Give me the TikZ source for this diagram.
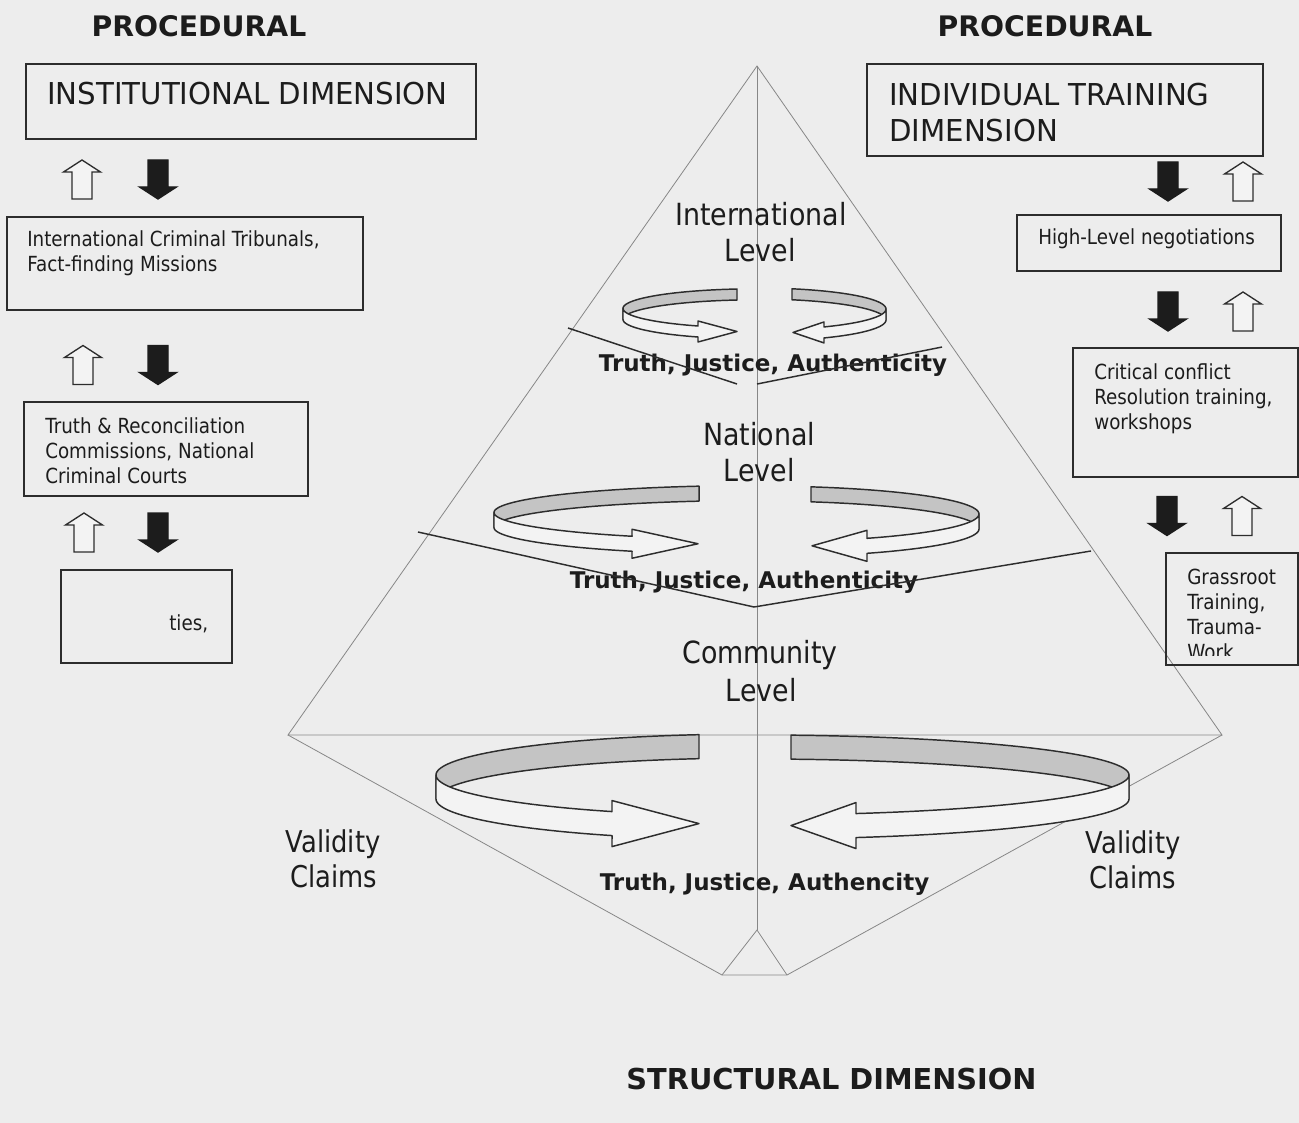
\documentclass[tikz,border=0pt]{standalone}
\usepackage{fontspec}
\setmainfont{DejaVu Sans}
\newfontfamily\tah{DejaVu Sans}[FakeStretch=0.88]
\newfontfamily\tahw{DejaVu Sans}[FakeStretch=0.97]
\newfontfamily\tahn{DejaVu Sans}[FakeStretch=0.86]

\definecolor{paper}{RGB}{237,237,237}
\definecolor{ink}{RGB}{28,28,28}
\definecolor{rim}{RGB}{45,45,45}
\definecolor{edge}{RGB}{135,135,135}
\definecolor{band}{RGB}{196,196,196}
\definecolor{face}{RGB}{243,243,243}

\tikzset{
  title/.style={font=\fontsize{21.2}{25}\selectfont\bfseries, text=ink, inner sep=0, anchor=base},
  motto/.style={font=\fontsize{17.25}{20}\selectfont\bfseries, text=ink, inner sep=0, anchor=base},
  caps/.style={font=\tahw\fontsize{22.6}{27}\selectfont, text=ink, inner sep=0, anchor=base west},
  small/.style={font=\tah\fontsize{15.6}{18.75}\selectfont, text=ink, inner sep=0, anchor=base west},
  level/.style={font=\tah\fontsize{22.9}{27}\selectfont, text=ink, inner sep=0, anchor=base},
  claim/.style={font=\tahn\fontsize{22.5}{27}\selectfont, text=ink, inner sep=0, anchor=base},
  frame/.style={draw=rim, line width=1.5pt},
  pyr/.style={draw=edge, line width=0.6pt},
  divider/.style={draw=rim, line width=1.1pt},
  bandback/.style={fill=band, draw=rim, line width=1.1pt, line join=round},
  bandfront/.style={fill=face, draw=rim, line width=1.1pt, line join=round},
  whitearr/.style={fill=face, draw=rim, line width=1pt},
  blackarr/.style={fill=ink, draw=ink, line width=1pt},
  uparr/.pic={\filldraw[whitearr] (0,-19.5) -- (18.5,-7.5) -- (10,-7.5) -- (10,19.5)
      -- (-10,19.5) -- (-10,-7.5) -- (-18.5,-7.5) -- cycle;},
  downarr/.pic={\filldraw[blackarr] (0,19.5) -- (18.5,7.5) -- (10,7.5) -- (10,-19.5)
      -- (-10,-19.5) -- (-10,7.5) -- (-18.5,7.5) -- cycle;},
}

% curved ribbon arrow bending round its left end
% #1 cx, #2 cy, #3 a, #4 b, #5 band height, #6 cut end x, #7 head base x, #8 tip x, #9 barb
\newcommand\leftribbon[9]{%
  \pgfmathsetmacro\rs{360-acos((#6-#1)/#3)}%
  \pgfmathsetmacro\re{acos((#7-#1)/#3)}%
  \pgfmathsetmacro\ybt{#2+#4*sin(\re)}%
  \pgfmathsetmacro\ybb{\ybt+#5}%
  \pgfmathsetmacro\ym{\ybt+#5/2}%
  \filldraw[bandback] plot[domain=\rs:180,samples=50] ({#1+#3*cos(\x)},{#2+#4*sin(\x)})
     -- plot[domain=180:\rs,samples=50] ({#1+#3*cos(\x)},{#2+#5+#4*sin(\x)}) -- cycle;
  \filldraw[bandfront] plot[domain=180:\re,samples=50] ({#1+#3*cos(\x)},{#2+#4*sin(\x)})
     -- (#7,{\ybt-#9}) -- (#8,\ym) -- (#7,{\ybb+#9})
     -- plot[domain=\re:180,samples=50] ({#1+#3*cos(\x)},{#2+#5+#4*sin(\x)}) -- cycle;
}
% the same, bending round its right end
\newcommand\rightribbon[9]{%
  \pgfmathsetmacro\rs{360-acos((#6-#1)/#3)}%
  \pgfmathsetmacro\re{acos((#7-#1)/#3)}%
  \pgfmathsetmacro\ybt{#2+#4*sin(\re)}%
  \pgfmathsetmacro\ybb{\ybt+#5}%
  \pgfmathsetmacro\ym{\ybt+#5/2}%
  \filldraw[bandback] plot[domain=\rs:360,samples=50] ({#1+#3*cos(\x)},{#2+#4*sin(\x)})
     -- plot[domain=360:\rs,samples=50] ({#1+#3*cos(\x)},{#2+#5+#4*sin(\x)}) -- cycle;
  \filldraw[bandfront] plot[domain=0:\re,samples=50] ({#1+#3*cos(\x)},{#2+#4*sin(\x)})
     -- (#7,{\ybt-#9}) -- (#8,\ym) -- (#7,{\ybb+#9})
     -- plot[domain=\re:0,samples=50] ({#1+#3*cos(\x)},{#2+#5+#4*sin(\x)}) -- cycle;
}

\begin{document}
\begin{tikzpicture}[x=0.75pt, y=-0.75pt]
  \fill[paper] (0,0) rectangle (1299,1123);
  \useasboundingbox (0,0) rectangle (1299,1123);

  % pyramid
  \coordinate (apex) at (757,66);
  \coordinate (bl) at (288,735);
  \coordinate (br) at (1222,735);
  \coordinate (foot) at (757,930);
  \coordinate (fl) at (722,975);
  \coordinate (fr) at (787,975);
  \draw[pyr] (bl) -- (apex) -- (br) -- cycle;
  \draw[pyr] (apex) -- (foot);
  \draw[pyr] (bl) -- (fl) -- (fr) -- (br);
  \draw[pyr] (fl) -- (foot) -- (fr);

  % level dividers
  \coordinate (d1a) at (568,328);
  \coordinate (d1b) at (737,384);
  \coordinate (d1c) at (757,384);
  \coordinate (d1d) at (942,347);
  \coordinate (d2a) at (418,532);
  \coordinate (d2b) at (754,607);
  \coordinate (d2c) at (1091,551);

  % level labels
  \node[level] (intl) at (761,226) {International};
  \node[level] (intlv) at (760,262) {Level};
  \node[level] (natl) at (759,445) {National};
  \node[level] (natlv) at (759,481) {Level};
  \node[level] (comm) at (760,663) {Community};
  \node[level] (commlv) at (761,701) {Level};
  \node[claim] (vcl1) at (333,852) {Validity};
  \node[claim] (vcl2) at (334,887) {Claims};
  \node[claim] (vcr1) at (1133,853) {Validity};
  \node[claim] (vcr2) at (1133,888) {Claims};

  \node[motto] (tja1) at (773,371) {Truth, Justice, Authenticity};
  \node[motto] (tja2) at (744,588) {Truth, Justice, Authenticity};
  \node[motto] (tja3) at (764.5,890) {Truth, Justice, Authencity};

  \draw[divider] (d1a) -- (d1b);
  \draw[divider] (d1c) -- (d1d);
  \draw[divider] (d2a) -- (d2b) -- (d2c);

  % circulating validity claims
  \leftribbon{757}{308.4}{134}{19.6}{11}{737}{698}{737}{5}
  \rightribbon{757}{309}{129}{21}{11}{792}{824}{793}{5}
  \leftribbon{757}{512.5}{263}{27}{15}{699}{632}{698}{7}
  \rightribbon{757}{514}{222}{28}{15}{811}{867}{812}{8}
  \leftribbon{757}{775}{321}{41}{24}{699}{612}{699}{11}
  \rightribbon{757}{775}{372}{40}{24}{791}{856}{791}{11}

  % headings
  \node[title] (procl) at (199,37) {PROCEDURAL};
  \node[title] (procr) at (1045,37) {PROCEDURAL};
  \node[title, font=\fontsize{21.6}{25}\selectfont\bfseries] (struct) at (831.5,1089) {STRUCTURAL DIMENSION};

  % institutional column
  \draw[frame] (26,64) rectangle (476,139);
  \node[caps] (inst) at (47,105) {INSTITUTIONAL DIMENSION};
  \pic (iu1) at (82,179.5) {uparr};
  \pic (id1) at (158,179.5) {downarr};
  \draw[frame] (7,217) rectangle (363,310);
  \node[small] (ict1) at (27,247) {International Criminal Tribunals,};
  \node[small] (ict2) at (27,272) {Fact-finding Missions};
  \pic (iu2) at (83,365) {uparr};
  \pic (id2) at (158,365) {downarr};
  \draw[frame] (24,402) rectangle (308,496);
  \node[small] (trc1) at (45,433) {Truth \& Reconciliation};
  \node[small] (trc2) at (45,458) {Commissions, National};
  \node[small] (trc3) at (45,483) {Criminal Courts};
  \pic (iu3) at (84,532.5) {uparr};
  \pic (id3) at (158,532.5) {downarr};
  \draw[frame] (61,570) rectangle (232,663);
  \node[small] (ties) at (169,630) {ties,};

  % individual training column
  \draw[frame] (867,64) rectangle (1263,156);
  \node[caps] (ind1) at (889,106) {INDIVIDUAL TRAINING};
  \node[caps] (ind2) at (889,142) {DIMENSION};
  \pic (rd1) at (1168,181.5) {downarr};
  \pic (ru1) at (1243,181.5) {uparr};
  \draw[frame] (1017,215) rectangle (1281,271);
  \node[small] (hln) at (1038,245) {High-Level negotiations};
  \pic (rd2) at (1168,311.5) {downarr};
  \pic (ru2) at (1243,311.5) {uparr};
  \draw[frame] (1073,348) rectangle (1297.5,477);
  \node[small] (ccr1) at (1094,379) {Critical conflict};
  \node[small] (ccr2) at (1094,404) {Resolution training,};
  \node[small] (ccr3) at (1094,429) {workshops};
  \pic (rd3) at (1167,516) {downarr};
  \pic (ru3) at (1242,516) {uparr};
  \draw[frame] (1166,553) rectangle (1297.5,665);
  \node[small] (gt1) at (1187,584) {Grassroot};
  \node[small] (gt2) at (1187,609) {Training,};
  \node[small] (gt3) at (1187,634) {Trauma-};
  \begin{scope}
    \clip (1166,553) rectangle (1297,655);
    \node[small] (gt4) at (1187,659) {Work};
  \end{scope}
\end{tikzpicture}
\end{document}
